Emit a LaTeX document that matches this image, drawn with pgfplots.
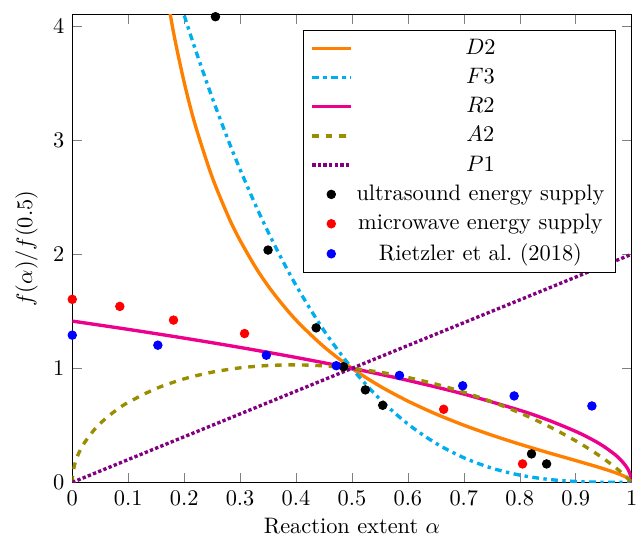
\documentclass[border=0pt]{standalone}
\usepackage{pgfplots}
\pgfplotsset{compat=1.18}
\definecolor{cD}{RGB}{255,128,0}
\definecolor{cF}{RGB}{0,174,239}
\definecolor{cR}{RGB}{236,0,140}
\definecolor{cA}{RGB}{153,142,0}
\definecolor{cP}{RGB}{128,0,128}
\begin{document}
\begin{tikzpicture}
\begin{axis}[
  name=ax,
  scale only axis,
  width=250pt, height=209pt,
  xmin=0, xmax=1, ymin=0, ymax=4.1,
  xtick={0,0.1,...,1},
  xticklabels={0,0.1,0.2,0.3,0.4,0.5,0.6,0.7,0.8,0.9,1},
  ytick={0,1,2,3,4},
  xlabel={Reaction extent $\alpha$},
  xlabel style={yshift=1.5pt},
  ylabel={$f(\alpha)/f(0.5)$},
  legend cell align={center},
  legend style={at={(0.972,0.968)}, anchor=north east, font=\normalsize, row sep=0.7pt},
  clip=true,
]
\addplot[cD, line width=1.5pt, smooth] coordinates {
(0.16,4.547)(0.18,3.971)(0.20,3.509)(0.22,3.131)(0.25,2.678)(0.28,2.320)(0.30,2.122)(0.33,1.868)(0.36,1.657)(0.40,1.423)(0.45,1.189)(0.50,1.0)(0.55,0.844)(0.60,0.7128)(0.65,0.600)(0.70,0.5016)(0.75,0.4142)(0.80,0.3351)(0.85,0.2618)(0.90,0.1916)(0.94,0.1344)(0.97,0.0868)(0.99,0.0460)(1.0,0)
};
\addlegendentry{$D2$}
\addplot[cF, line width=1.5pt, dashdotted, smooth] coordinates {
(0.19,4.2515)(0.20,4.096)(0.22,3.7964)(0.25,3.375)(0.28,2.986)(0.30,2.744)(0.33,2.406)(0.36,2.0972)(0.40,1.728)(0.45,1.331)(0.50,1.0)(0.55,0.729)(0.60,0.512)(0.65,0.343)(0.70,0.216)(0.75,0.125)(0.80,0.064)(0.85,0.027)(0.90,0.008)(0.95,0.001)(1.0,0)
};
\addlegendentry{$F3$}
\addplot[cR, line width=1.5pt, smooth] coordinates {
(0,1.41421)(0.1,1.34164)(0.2,1.26491)(0.3,1.18322)(0.4,1.09545)(0.5,1.0)(0.6,0.89443)(0.7,0.77460)(0.8,0.63246)(0.85,0.54772)(0.9,0.44721)(0.93,0.37417)(0.95,0.31623)(0.97,0.24495)(0.98,0.2)(0.99,0.14142)(0.995,0.1)(0.999,0.04472)(1,0)
};
\addlegendentry{$R2$}
\addplot[cA, line width=1.5pt, dashed, smooth] coordinates {
(0,0)(0.001,0.0759)(0.005,0.1692)(0.01,0.2384)(0.02,0.3346)(0.04,0.4659)(0.06,0.5617)(0.08,0.6382)(0.10,0.7018)(0.15,0.8232)(0.20,0.9078)(0.25,0.9664)(0.30,1.0043)(0.35,1.0248)(0.40,1.0302)(0.45,1.0216)(0.50,1.0)(0.55,0.9660)(0.60,0.9198)(0.65,0.8615)(0.70,0.7908)(0.75,0.7071)(0.80,0.6095)(0.85,0.4963)(0.90,0.3645)(0.93,0.2742)(0.95,0.2079)(0.97,0.1350)(0.99,0.0516)(1,0)
};
\addlegendentry{$A2$}
\addplot[cP, line width=1.5pt, densely dotted] coordinates {(0,0)(1,2)};
\addlegendentry{$P1$}
\addplot[only marks, mark=*, mark size=1.9pt, black] coordinates {
(0.256,4.083)(0.350,2.037)(0.436,1.355)(0.485,1.014)(0.524,0.811)(0.555,0.676)(0.821,0.250)(0.848,0.162)
};
\addlegendentry{ultrasound energy supply}
\addplot[only marks, mark=*, mark size=1.9pt, red] coordinates {
(0,1.605)(0.085,1.543)(0.181,1.423)(0.308,1.305)(0.664,0.641)(0.805,0.162)
};
\addlegendentry{microwave energy supply}
\addplot[only marks, mark=*, mark size=1.9pt, blue] coordinates {
(0,1.291)(0.153,1.203)(0.347,1.115)(0.472,1.023)(0.585,0.938)(0.698,0.847)(0.790,0.758)(0.929,0.670)
};
\addlegendentry{Rietzler et al.\ (2018)}
\end{axis}
\pgfresetboundingbox
\useasboundingbox ([shift={(-32.3pt,-25.9pt)}]ax.south west) rectangle ([shift={(2.4pt,6.6pt)}]ax.north east);
\end{tikzpicture}
\end{document}
